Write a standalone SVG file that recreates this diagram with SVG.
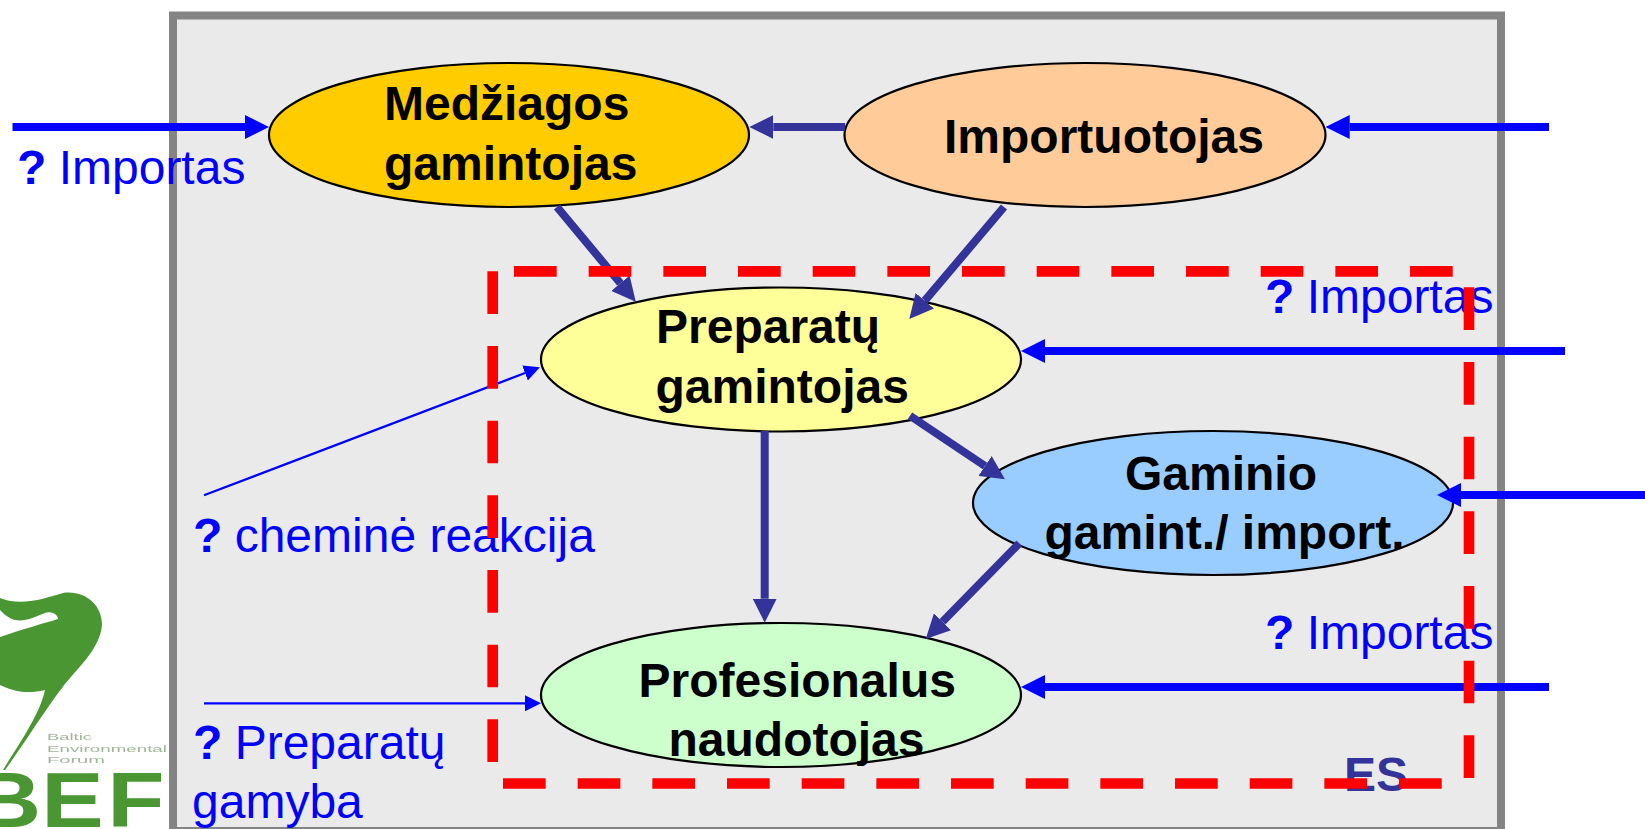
<svg xmlns="http://www.w3.org/2000/svg" width="1645" height="829" viewBox="0 0 1645 829">
<style>
text{font-family:"Liberation Sans",Arial,sans-serif;font-size:48px}
.n{font-weight:bold;fill:#000}
.l{fill:#00f}
.q{font-weight:bold}
ellipse{stroke:#000;stroke-width:2.2}
.big{fill:none;stroke:#00f;stroke-width:8;marker-end:url(#hb)}
.nav{fill:none;stroke:#339;stroke-width:8;marker-end:url(#hn)}
.thin{fill:none;stroke:#00f;stroke-width:2.2;marker-end:url(#ht)}
.dash{fill:none;stroke:#f00;stroke-width:10.67;stroke-dasharray:42.67 32}
.tiny{font-size:9.5px;fill:#a3b59c}
</style>
<defs>
<marker id="hb" markerUnits="userSpaceOnUse" markerWidth="24" markerHeight="24" refX="0" refY="12" orient="auto"><path d="M0 0L24 12L0 24Z" fill="#00f"/></marker>
<marker id="hn" markerUnits="userSpaceOnUse" markerWidth="24" markerHeight="24" refX="0" refY="12" orient="auto"><path d="M0 0L24 12L0 24Z" fill="#339"/></marker>
<marker id="ht" markerUnits="userSpaceOnUse" markerWidth="16" markerHeight="16" refX="0" refY="8" orient="auto"><path d="M0 0L16 8L0 16Z" fill="#00f"/></marker>
<filter id="soft" x="-5%" y="-5%" width="110%" height="110%"><feGaussianBlur stdDeviation="0.7"/></filter>
</defs>
<rect id="frame" x="173" y="15.5" width="1328" height="815.5" fill="#eaeaea" stroke="#848484" stroke-width="8"/>
<g id="logo" filter="url(#soft)">
<path d="M0 598C20 606 40 600 63 593C85 590 102 605 102 625C100 650 75 670 62 688C45 710 20 750 5 770L3 770C15 750 40 715 45 690C25 695 10 690 0 685Z" fill="#4a9632"/>
<path d="M0 637C20 630 45 623 58 619C58 614 50 611 45 613C35 617 25 622 15 620C8 618 4 614 0 610Z" fill="#fff"/>
<text class="tiny" x="47" y="740" textLength="45" lengthAdjust="spacingAndGlyphs">Baltic</text>
<text class="tiny" x="47" y="751.5" textLength="120" lengthAdjust="spacingAndGlyphs">Environmental</text>
<text class="tiny" x="47" y="763" textLength="58" lengthAdjust="spacingAndGlyphs">Forum</text>
<text transform="scale(1.2 1)" x="-22 34.3 89.3" y="827" fill="#4a9632" style="font-size:78px;font-weight:bold">BEF</text>
</g>
<g id="node-medziagos">
<ellipse cx="509" cy="135" rx="240" ry="72" fill="#fc0"/>
<text class="n" x="384" y="120">Medžiagos</text>
<text class="n" x="384" y="180">gamintojas</text>
</g>
<g id="node-importuotojas">
<ellipse cx="1085" cy="135" rx="240.5" ry="72" fill="#fc9"/>
<text class="n" x="944" y="152.5">Importuotojas</text>
</g>
<g id="node-preparatu">
<ellipse cx="781" cy="359.5" rx="240" ry="72" fill="#ff9"/>
<text class="n" x="656" y="343">Preparatų</text>
<text class="n" x="655.5" y="402.5">gamintojas</text>
</g>
<g id="node-gaminio">
<ellipse cx="1213" cy="503" rx="240" ry="72" fill="#9cf"/>
<text class="n" x="1125" y="490">Gaminio</text>
<text class="n" x="1044.5" y="549">gamint./ import.</text>
</g>
<g id="node-profesionalus">
<ellipse cx="781" cy="695" rx="240" ry="72" fill="#cfc"/>
<text class="n" x="638.5" y="697">Profesionalus</text>
<text class="n" x="668.5" y="756">naudotojas</text>
</g>
<g id="connectors">
<path class="big" d="M12.5 127H245"/>
<path class="big" d="M1549 127H1349.7"/>
<path class="big" d="M1565 351H1045"/>
<path class="big" d="M1645 495H1461"/>
<path class="big" d="M1549 687H1045"/>
<path class="nav" d="M845 127H773.3"/>
<path class="nav" d="M557 207L620.4 283.2"/>
<path class="nav" d="M1004 207L924.8 300.7"/>
<path class="nav" d="M764.7 431V598.7"/>
<path class="nav" d="M910 415.7L985 466"/>
<path class="nav" d="M1019.3 543.3L942.5 621.8"/>
<path class="thin" d="M204 495.3L525 373"/>
<path class="thin" d="M204 703.3H525"/>
</g>
<g id="labels">
<text class="l" x="17" y="184"><tspan class="q">?</tspan><tspan dx="-1"> Importas</tspan></text>
<text class="l" x="1265" y="312.5"><tspan class="q">?</tspan><tspan dx="-1"> Importas</tspan></text>
<text class="l" x="1265" y="648.5"><tspan class="q">?</tspan><tspan dx="-1"> Importas</tspan></text>
<text class="l" x="193" y="551.7"><tspan class="q">?</tspan><tspan dx="-1"> cheminė reakcija</tspan></text>
<text class="l" x="193" y="759.3"><tspan class="q">?</tspan><tspan dx="-1"> Preparatų</tspan></text>
<text class="l" x="192" y="818">gamyba</text>
<text x="1344" y="791" style="font-weight:bold" fill="#339">ES</text>
</g>
<g id="boundary">
<path class="dash" d="M492.7 271.3V762"/>
<path class="dash" d="M503 783.5H1442.7"/>
<path class="dash" d="M514 271.3H1453.5"/>
<path class="dash" d="M1469 287.3V778"/>
</g>
</svg>
